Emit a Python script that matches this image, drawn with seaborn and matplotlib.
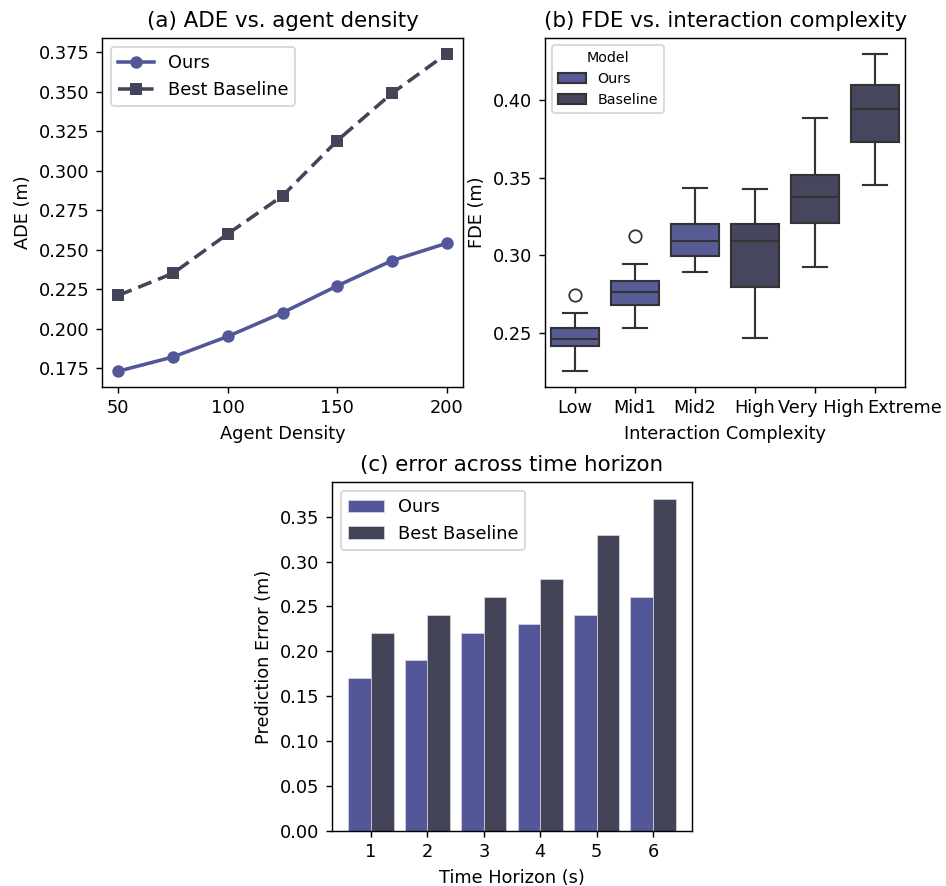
import matplotlib
matplotlib.use("Agg")
import matplotlib.pyplot as plt
from matplotlib.ticker import MultipleLocator
from matplotlib.transforms import ScaledTranslation
import pandas as pd
import seaborn as sns

# colours
OURS = "#53579a"
BASE = "#444459"

# (a) ADE vs agent density
density = [50, 75, 100, 125, 150, 175, 200]
ade_ours = [0.173, 0.182, 0.195, 0.210, 0.227, 0.243, 0.254]
ade_base = [0.221, 0.235, 0.260, 0.284, 0.319, 0.349, 0.374]

# (b) FDE samples per complexity level (read from box stats)
levels = ["Low", "Mid1", "Mid2", "High", "Very High", "Extreme"]
level_model = ["Ours", "Ours", "Ours", "Baseline", "Baseline", "Baseline"]
fde_low = [0.2255, 0.2380, 0.2418, 0.2440, 0.2461, 0.2500, 0.2530, 0.2627, 0.2743]
fde_mid1 = [0.2530, 0.2640, 0.2680, 0.2720, 0.2764, 0.2800, 0.2835, 0.2944, 0.3125]
fde_mid2 = [0.2893, 0.2950, 0.2998, 0.3050, 0.3095, 0.3150, 0.3200, 0.3300, 0.3434]
fde_high = [0.2468, 0.2650, 0.2798, 0.2950, 0.3095, 0.3150, 0.3202, 0.3300, 0.3428]
fde_vhigh = [0.2925, 0.3100, 0.3212, 0.3300, 0.3377, 0.3450, 0.3515, 0.3700, 0.3886]
fde_ext = [0.3453, 0.3600, 0.3732, 0.3850, 0.3942, 0.4020, 0.4097, 0.4200, 0.4298]

# (c) error across time horizon
horizon = [1, 2, 3, 4, 5, 6]
err_ours = [0.17, 0.19, 0.22, 0.23, 0.24, 0.26]
err_base = [0.22, 0.24, 0.26, 0.28, 0.33, 0.37]

W, H, DPI = 946, 886, 128
fig = plt.figure(figsize=(W / DPI, H / DPI), dpi=DPI)


def box(l, t, r, b):
    return [l / W, 1 - b / H, (r - l) / W, (b - t) / H]


ax1 = fig.add_axes(box(102, 38, 463, 387))
ax2 = fig.add_axes(box(545, 38, 905, 387))
ax3 = fig.add_axes(box(332, 482, 692, 831))

# (a) line plot
df_line = pd.DataFrame({
    "density": density * 2,
    "ade": ade_ours + ade_base,
    "model": ["Ours"] * len(density) + ["Best Baseline"] * len(density),
})
sns.lineplot(data=df_line, x="density", y="ade", hue="model", style="model",
             markers={"Ours": "o", "Best Baseline": "s"},
             dashes={"Ours": "", "Best Baseline": (4, 2)},
             palette={"Ours": OURS, "Best Baseline": BASE},
             linewidth=2, markersize=7, markeredgewidth=0, ax=ax1)
ax1.set_title("(a) ADE vs. agent density", fontsize=12)
ax1.set_xlabel("Agent Density")
ax1.set_ylabel("ADE (m)")
ax1.legend(loc="upper left", title=None, fontsize=10)

# (b) box plot
groups = [fde_low, fde_mid1, fde_mid2, fde_high, fde_vhigh, fde_ext]
rows = []
for lev, mod, vals in zip(levels, level_model, groups):
    for v in vals:
        rows.append({"level": lev, "model": mod, "fde": v})
df_box = pd.DataFrame(rows)
sns.boxplot(data=df_box, x="level", y="fde", hue="model", order=levels,
            hue_order=["Ours", "Baseline"],
            palette={"Ours": "#585c95", "Baseline": "#46465e"},
            saturation=1, linecolor="#333333", linewidth=1.2,
            flierprops={"markersize": 7, "markeredgecolor": "#333333"},
            ax=ax2)
ax2.set_title("(b) FDE vs. interaction complexity", fontsize=12)
ax2.set_xlabel("Interaction Complexity")
ax2.set_ylabel("FDE (m)")
ax2.yaxis.set_major_locator(MultipleLocator(0.05))
sns.move_legend(ax2, "upper left", title="Model", fontsize=8, title_fontsize=8)
# nudge the last two crowded labels to the right, as in the source figure
for lab, dx in zip(ax2.get_xticklabels()[-2:], [6, 30]):
    lab.set_transform(lab.get_transform() + ScaledTranslation(dx / DPI, 0, fig.dpi_scale_trans))

# (c) bar plot
df_bar = pd.DataFrame({
    "horizon": horizon * 2,
    "err": err_ours + err_base,
    "model": ["Ours"] * len(horizon) + ["Best Baseline"] * len(horizon),
})
sns.barplot(data=df_bar, x="horizon", y="err", hue="model",
            palette={"Ours": OURS, "Best Baseline": BASE},
            saturation=1, errorbar=None, edgecolor="#d8d8e0", linewidth=0.4,
            ax=ax3)
ax3.set_xlim(-0.69, len(horizon) - 1 + 0.69)
ax3.set_title("(c) error across time horizon", fontsize=12)
ax3.set_xlabel("Time Horizon (s)")
ax3.set_ylabel("Prediction Error (m)")
ax3.legend(loc="upper left", title=None, fontsize=10)

fig.savefig("out.png", dpi=DPI)
